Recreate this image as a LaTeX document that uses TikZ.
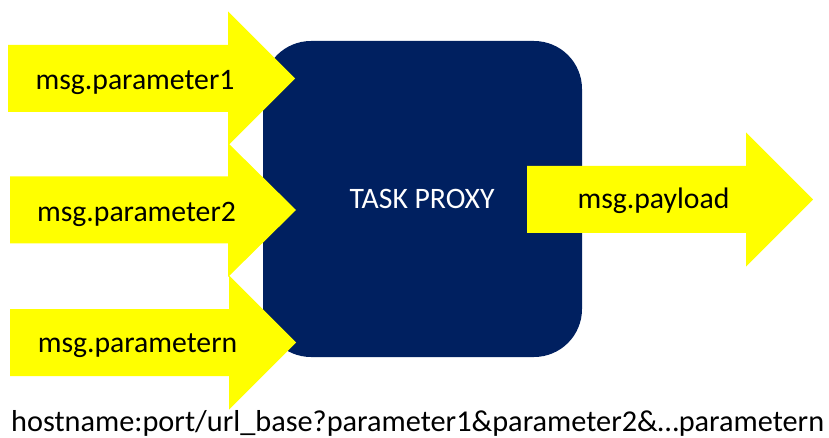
\documentclass[tikz,border=0pt]{standalone}
\usepackage{fontspec}
\setmainfont{Carlito}
\definecolor{proxyblue}{RGB}{0,32,96}
\definecolor{flowyellow}{RGB}{255,255,0}
\tikzset{
  flow/.style={fill=flowyellow, draw=none},
  lbl/.style={inner sep=0pt, anchor=base, font=\fontsize{29.7}{36}\selectfont},
}
% block arrow: left x, head base x, tip x, centre y
\newcommand\blockarrow[4]{%
  \fill[flow] (#1,#4-33.5) -- (#2,#4-33.5) -- (#2,#4-67) -- (#3,#4)
    -- (#2,#4+67) -- (#2,#4+33.5) -- (#1,#4+33.5) -- cycle;}
\begin{document}
\begin{tikzpicture}[x=1pt,y=-1pt]
  \useasboundingbox (0,0) rectangle (829,438);
  % central block
  \node[fill=proxyblue, rounded corners=48pt, minimum width=319pt,
        minimum height=316pt, inner sep=0pt] (proxy) at (422.5,199) {};
  \node[lbl, text=white] (proxylbl) at (422,209) {TASK PROXY};
  % incoming parameters
  \blockarrow{8}{228}{295}{78.5}
  \blockarrow{10}{228}{296}{210}
  \blockarrow{10}{229}{296}{342.5}
  \node[lbl] (p1) at (135,90) {msg.parameter1};
  \node[lbl] (p2) at (136.5,222) {msg.parameter2};
  \node[lbl] (pn) at (137.5,352) {msg.parametern};
  % outgoing payload
  \blockarrow{527}{746}{813}{199.5}
  \node[lbl] (out) at (653.5,209) {msg.payload};
  % request URL
  \node[lbl, anchor=base west, font=\fontsize{30.3}{36}\selectfont] (url) at (11,431)
    {hostname:port/url\_base?parameter1\&parameter2\&…parametern};
\end{tikzpicture}
\end{document}
